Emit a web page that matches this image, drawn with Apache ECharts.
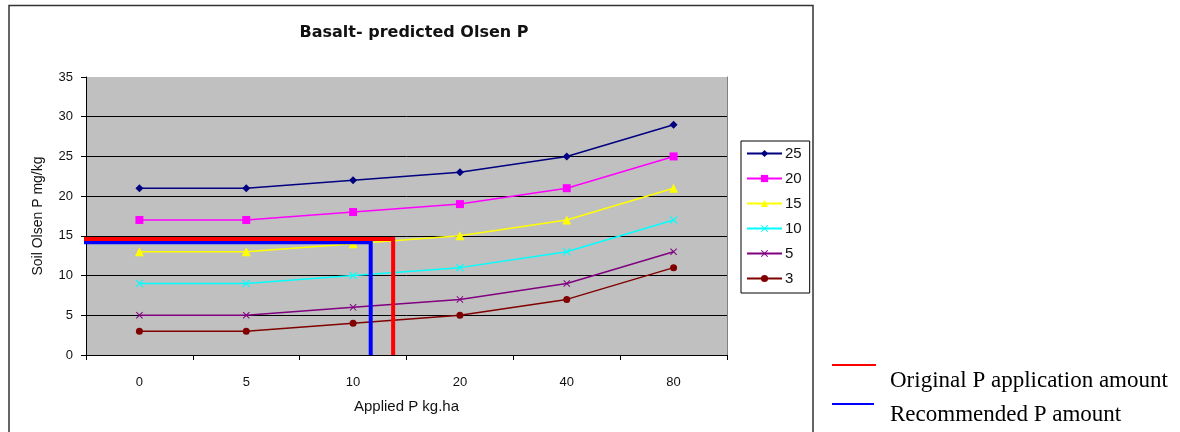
<!DOCTYPE html>
<html>
<head>
<meta charset="utf-8">
<title>Basalt- predicted Olsen P</title>
<script src="https://cdn.jsdelivr.net/npm/echarts@6/dist/echarts.min.js"></script>
<style>
  html, body { margin: 0; padding: 0; background: #fff; }
  #chart { width: 1180px; height: 432px; }
</style>
</head>
<body>
<div id="chart"></div>
<script>
// Applied P rates (kg/ha) along the x axis
const categories = ['0', '5', '10', '20', '40', '80'];
// Predicted Olsen P (mg/kg) for each starting Olsen P level
const s25 = [21, 21, 22, 23, 25, 29];
const s20 = [17, 17, 18, 19, 21, 25];
const s15 = [13, 13, 14, 15, 17, 21];
const s10 = [9, 9, 10, 11, 13, 17];
const s5  = [5, 5, 6, 7, 9, 13];
const s3  = [3, 3, 4, 5, 7, 11];
const yTicks = [0, 5, 10, 15, 20, 25, 30, 35];

// Guide lines: [category position, Olsen P]
const originalGuide    = [[-0.54, 14.6], [2.375, 14.6], [2.375, 0]];
const recommendedGuide = [[-0.54, 14.2], [2.165, 14.2], [2.165, 0]];

const xShape = 'path://M0,1 L1,0 L5,4 L9,0 L10,1 L6,5 L10,9 L9,10 L5,6 L1,10 L0,9 L4,5 Z';

function levelSeries(name, data, color, symbol, size) {
  return {
    name: name,
    type: 'line',
    data: data,
    symbol: symbol,
    symbolSize: size,
    showSymbol: true,
    lineStyle: { color: color, width: 1.5 },
    itemStyle: { color: color },
    z: 3
  };
}

function guideSeries(name, data, color) {
  return {
    name: name,
    type: 'line',
    xAxisIndex: 1,
    data: data,
    symbol: 'none',
    clip: false,
    lineStyle: { color: color, width: 4, cap: 'butt', join: 'miter' },
    z: 6,
    silent: true
  };
}

const chart = echarts.init(document.getElementById('chart'), null, { renderer: 'canvas' });

chart.setOption({
  animation: false,
  backgroundColor: '#ffffff',
  textStyle: { fontFamily: 'Liberation Sans, Arial, sans-serif' },
  title: {
    text: 'Basalt- predicted Olsen P',
    left: 409,
    top: 20,
    textAlign: 'center',
    textStyle: { fontFamily: 'DejaVu Sans', fontWeight: 'bold', fontSize: 16, color: '#111' }
  },
  legend: {
    orient: 'vertical',
    left: 741,
    top: 141,
    width: 60,
    data: ['25', '20', '15', '10', '5', '3'],
    itemWidth: 35,
    itemHeight: 9,
    itemGap: 10,
    padding: [5, 8, 7, 5],
    borderColor: '#000',
    borderWidth: 1,
    textStyle: { fontSize: 15, color: '#111', padding: [0, 0, 0, -2] }
  },
  grid: {
    left: 86,
    right: 453,
    top: 77,
    bottom: 77,
    show: true,
    backgroundColor: '#c0c0c0',
    borderWidth: 0
  },
  xAxis: [
    {
      type: 'category',
      data: categories,
      boundaryGap: true,
      name: 'Applied P kg.ha',
      nameLocation: 'middle',
      nameGap: 44,
      nameTextStyle: { fontSize: 15, color: '#111' },
      axisLine: { lineStyle: { color: '#000', width: 1 } },
      axisTick: { show: true, length: 5, lineStyle: { color: '#000' } },
      axisLabel: { fontSize: 13, color: '#111', margin: 21 },
      splitLine: { show: false }
    },
    {
      type: 'value',
      min: -0.5,
      max: 5.5,
      show: false
    }
  ],
  yAxis: [
    {
      type: 'value',
      min: yTicks[0],
      max: yTicks[yTicks.length - 1],
      interval: 5,
      name: 'Soil Olsen P mg/kg',
      nameLocation: 'middle',
      nameGap: 41,
      nameTextStyle: { fontSize: 14, color: '#111' },
      axisLine: { show: true, onZero: false, lineStyle: { color: '#000', width: 1 } },
      axisTick: { show: true, length: 5, lineStyle: { color: '#000' } },
      axisLabel: { fontSize: 13, color: '#111', margin: 13 },
      splitLine: { show: true, showMaxLine: false, lineStyle: { color: '#000', width: 1 } }
    },
    {
      type: 'value',
      min: 0,
      max: 35,
      position: 'right',
      axisLine: { show: true, onZero: false, lineStyle: { color: '#808080', width: 1 } },
      axisTick: { show: false },
      axisLabel: { show: false },
      splitLine: { show: false }
    }
  ],
  series: [
    levelSeries('25', s25, '#000080', 'diamond', 8),
    levelSeries('20', s20, '#ff00ff', 'rect', 8),
    levelSeries('15', s15, '#ffff00', 'triangle', 9),
    levelSeries('10', s10, '#00ffff', xShape, 8),
    levelSeries('5', s5, '#800080', xShape, 7),
    levelSeries('3', s3, '#800000', 'circle', 7),
    guideSeries('Recommended P amount', recommendedGuide, '#0000ff'),
    guideSeries('Original P application amount', originalGuide, '#ff0000')
  ],
  graphic: [
    {
      type: 'rect',
      shape: { x: 9, y: 5.5, width: 804, height: 440 },
      style: { fill: 'none', stroke: '#333', lineWidth: 1.5 },
      silent: true,
      z: -1
    },
    {
      type: 'line',
      shape: { x1: 832, y1: 365, x2: 876, y2: 365 },
      style: { stroke: '#ff0000', lineWidth: 2 }
    },
    {
      type: 'line',
      shape: { x1: 832, y1: 404, x2: 874, y2: 404 },
      style: { stroke: '#0000ff', lineWidth: 2 }
    },
    {
      type: 'text',
      left: 890,
      top: 369,
      style: { text: 'Original P application amount', font: '23px "Liberation Serif", "Times New Roman", serif', fill: '#000' }
    },
    {
      type: 'text',
      left: 890,
      top: 403,
      style: { text: 'Recommended P amount', font: '23px "Liberation Serif", "Times New Roman", serif', fill: '#000' }
    }
  ]
});
</script>
</body>
</html>
